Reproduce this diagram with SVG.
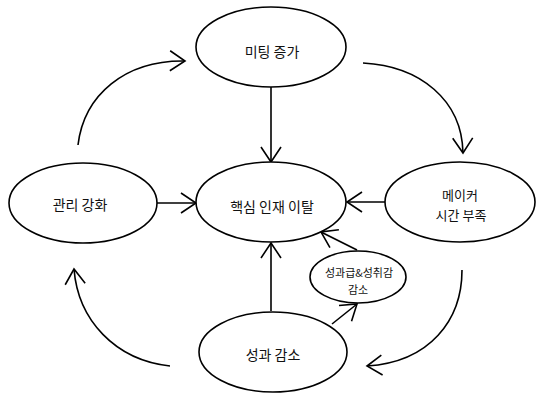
<svg xmlns="http://www.w3.org/2000/svg" width="557" height="411" viewBox="0 0 557 411">
<style>
.n{fill:#fff;stroke:#000;stroke-width:1.6}
.t{font-family:"Noto Sans CJK KR","Noto Sans",sans-serif;font-size:14px;fill:#111;text-anchor:middle}
.m{font-size:13px}
.s{font-size:11px}
.c{fill:none;stroke:#000;stroke-width:1.6}
</style>
<defs>
<marker id="a" markerUnits="userSpaceOnUse" markerWidth="30" markerHeight="30" refX="0" refY="0" viewBox="-20 -15 25 30" orient="auto" overflow="visible">
<path d="M-15,-10 L0,0 L-15,10" fill="none" stroke="#000" stroke-width="1.6"/>
</marker>
</defs>
<g id="connectors">
<path class="c" d="M271,87 L271,162" marker-end="url(#a)"/>
<path class="c" d="M157,203 L196,203" marker-end="url(#a)"/>
<path class="c" d="M385,202 L347,202" marker-end="url(#a)"/>
<path class="c" d="M271,311 L271,243" marker-end="url(#a)"/>
<path class="c" d="M357,250 L321,232" marker-end="url(#a)"/>
<path class="c" d="M332,324 L357,304" marker-end="url(#a)"/>
<path class="c" d="M78,145 C84,95 125,60 185,61" marker-end="url(#a)"/>
<path class="c" d="M363,63 C420,66 462,100 463,153" marker-end="url(#a)"/>
<path class="c" d="M462,270 C462,320 430,362 367,366" marker-end="url(#a)"/>
<path class="c" d="M170,366 C115,360 78,320 74,269" marker-end="url(#a)"/>
</g>
<g id="n1"><ellipse class="n" cx="271" cy="47" rx="75" ry="40"/><text class="t" x="272" y="57">미팅 증가</text></g>
<g id="n2"><ellipse class="n" cx="271" cy="202" rx="75" ry="40"/><text class="t" x="272" y="212">핵심 인재 이탈</text></g>
<g id="n3"><ellipse class="n" cx="83" cy="203" rx="74" ry="40"/><text class="t" x="80" y="210">관리 강화</text></g>
<g id="n4"><ellipse class="n" cx="460" cy="202" rx="75" ry="40"/><text class="t m" x="460" y="200">메이커</text><text class="t m" x="461" y="220">시간 부족</text></g>
<g id="n5"><ellipse class="n" cx="273" cy="352" rx="74" ry="40"/><text class="t" x="273" y="360">성과 감소</text></g>
<g id="n6"><ellipse class="n" cx="358" cy="277" rx="48" ry="26"/><text class="t s" x="359" y="277">성과급&amp;성취감</text><text class="t s" x="358" y="294">감소</text></g>
</svg>
